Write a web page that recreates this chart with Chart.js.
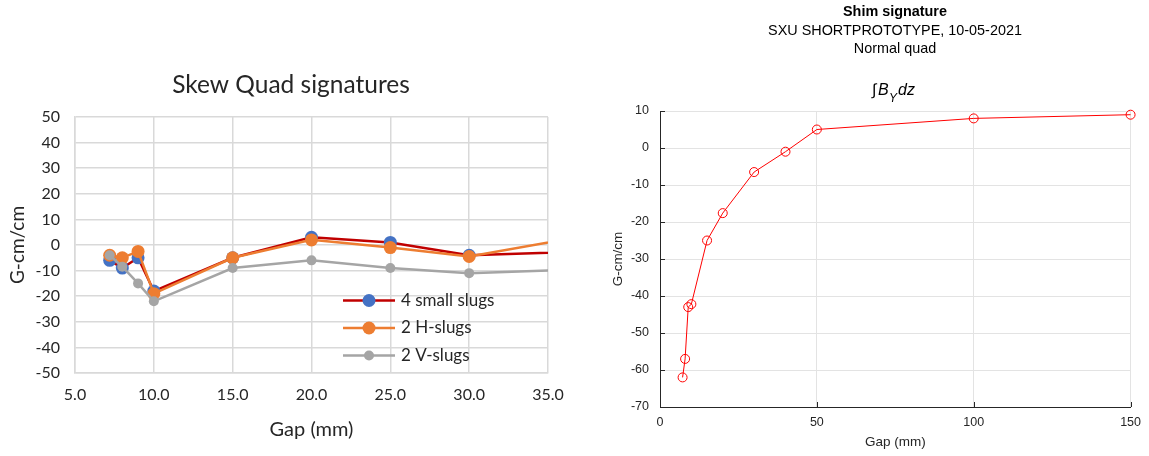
<!DOCTYPE html>
<html><head><meta charset="utf-8">
<script src="https://cdn.jsdelivr.net/npm/chart.js@4/dist/chart.umd.min.js"></script>
<style>
html,body{margin:0;padding:0;background:#fff;}
#wrap{position:relative;width:1149px;height:456px;overflow:hidden;}
#c1{position:absolute;left:0;top:0;}
#c2{position:absolute;left:600px;top:0;}
</style></head><body>
<div id="wrap"><canvas id="c1" width="600" height="456"></canvas><canvas id="c2" width="549" height="456"></canvas></div>
<script>
// ---- Left chart data (Skew Quad signatures) ----
const gapsLeft = [7.2, 8, 9, 10, 15, 20, 25, 30, 40];
const smallSlugs = [-6, -9, -5, -18, -5, 3, 1, -4, -2];
const hSlugs = [-4, -5, -2.5, -19, -5, 2, -1, -4.5, 6.5];
const vSlugs = [-4, -8.5, -15, -22, -9, -6, -9, -11, -9];
const leftLabels = ['4 small slugs', '2 H-slugs', '2 V-slugs'];
const leftXTicks = [5, 10, 15, 20, 25, 30, 35];
const leftYTicks = [-50, -40, -30, -20, -10, 0, 10, 20, 30, 40, 50];

// ---- Right chart data (Shim signature) ----
const gapsRight = [7.2, 8, 9, 10, 15, 20, 30, 40, 50, 100, 150];
const byDz = [-62, -57, -43, -42.2, -25, -17.6, -6.5, -1, 5, 8, 9];
const rightXTicks = [0, 50, 100, 150];
const rightYTicks = [-70, -60, -50, -40, -30, -20, -10, 0, 10];

function xy(xs, ys){ return xs.map((x,i)=>({x:x, y:ys[i]})); }

const textPlugin = {
  id: 'texts',
  afterDraw(chart, args, opts){
    const ctx = chart.ctx;
    (opts.items||[]).forEach(it=>{
      ctx.save();
      ctx.font = it.font; ctx.fillStyle = it.color || '#000';
      ctx.textAlign = it.align || 'center'; ctx.textBaseline = 'middle';
      ctx.fillText(it.text, it.x, it.y);
      ctx.restore();
    });
  }
};

const legendPlugin = {
  id: 'inLegend',
  afterDraw(chart, args, opts){
    if(!opts.show) return;
    const ctx = chart.ctx;
    chart.data.datasets.forEach((ds, i)=>{
      const y = opts.y0 + i*opts.dy;
      ctx.save();
      ctx.strokeStyle = ds.borderColor; ctx.lineWidth = ds.borderWidth;
      ctx.beginPath(); ctx.moveTo(opts.x0, y); ctx.lineTo(opts.x1, y); ctx.stroke();
      ctx.fillStyle = ds.pointBackgroundColor;
      ctx.beginPath(); ctx.arc((opts.x0+opts.x1)/2, y, ds.pointRadius, 0, Math.PI*2); ctx.fill();
      ctx.font = opts.font; ctx.fillStyle = opts.color; ctx.textAlign='left'; ctx.textBaseline='middle';
      ctx.fillText(ds.label, opts.tx, y);
      ctx.restore();
    });
  }
};

const ticksInPlugin = {
  id: 'ticksIn',
  afterDatasetsDraw(chart, args, opts){
    if(!opts.show) return;
    const ctx = chart.ctx, xs = chart.scales.x, ys = chart.scales.y, a = chart.chartArea;
    ctx.save(); ctx.strokeStyle = '#262626'; ctx.lineWidth = 1;
    ctx.beginPath();
    xs.ticks.forEach(t=>{ const p = Math.round(xs.getPixelForValue(t.value))+0.5; ctx.moveTo(p, a.bottom); ctx.lineTo(p, a.bottom-5); });
    ys.ticks.forEach(t=>{ const p = Math.round(ys.getPixelForValue(t.value))+0.5; ctx.moveTo(a.left, p); ctx.lineTo(a.left+5, p); });
    ctx.stroke(); ctx.restore();
  }
};

const LF = 'Lato, "Open Sans", sans-serif';
const LC = '#262626';
new Chart(document.getElementById('c1'), {
  type: 'line',
  data: { datasets: [
    { label: leftLabels[0], data: xy(gapsLeft, smallSlugs), borderColor:'#C00000', borderWidth:2.5,
      pointBackgroundColor:'#4472C4', pointBorderColor:'#4472C4', pointRadius:6.5, pointBorderWidth:0, order:3 },
    { label: leftLabels[1], data: xy(gapsLeft, hSlugs), borderColor:'#ED7D31', borderWidth:2.5,
      pointBackgroundColor:'#ED7D31', pointBorderColor:'#ED7D31', pointRadius:6.5, pointBorderWidth:0, order:2 },
    { label: leftLabels[2], data: xy(gapsLeft, vSlugs), borderColor:'#A5A5A5', borderWidth:2.5,
      pointBackgroundColor:'#A5A5A5', pointBorderColor:'#A5A5A5', pointRadius:5, pointBorderWidth:0, order:1 }
  ]},
  options: {
    responsive:false, animation:false,
    layout:{ padding:{ top:117, right:52, left:0, bottom:0 } },
    plugins:{ legend:{display:false}, tooltip:{enabled:false},
      texts:{ items:[ {text:'Skew Quad signatures', x:291, y:85, font:'24.5px '+LF, color:LC} ] },
      inLegend:{ show:true, x0:343, x1:395, tx:401, y0:300.5, dy:27.5, font:'17px '+LF, color:LC },
      ticksIn:{show:false}
    },
    scales:{
      x:{ type:'linear', min:5, max:35, afterFit:s=>{s.height=83;},
        afterBuildTicks:s=>{ s.ticks = leftXTicks.map(v=>({value:v})); },
        ticks:{ callback:v=>Number(v).toFixed(1), font:{family:LF, size:16}, color:LC, padding:12, maxRotation:0 },
        grid:{ color:'#d9d9d9', lineWidth:1.5, drawTicks:false }, border:{ color:'#d9d9d9', width:1.5 },
        title:{ display:true, text:'Gap (mm)', font:{family:LF, size:20}, color:LC, padding:{top:0,bottom:14} } },
      y:{ type:'linear', min:-50, max:50, afterFit:s=>{s.width=75;},
        afterBuildTicks:s=>{ s.ticks = leftYTicks.map(v=>({value:v})); },
        ticks:{ font:{family:LF, size:16}, color:LC, padding:15 },
        grid:{ color:'#d9d9d9', lineWidth:1.5, drawTicks:false }, border:{ color:'#d9d9d9', width:1.5 },
        title:{ display:true, text:'G-cm/cm', font:{family:LF, size:19}, color:LC, padding:{top:6.6,bottom:0} } }
    }
  },
  plugins:[textPlugin, legendPlugin]
});

const RF = '"Liberation Sans", Arial, sans-serif';
const integralPlugin = {
  id: 'integral',
  afterDraw(chart){
    const ctx = chart.ctx;
    ctx.save(); ctx.fillStyle = '#000'; ctx.textBaseline = 'alphabetic'; ctx.textAlign = 'left';
    ctx.font = 'italic 16px ' + RF;
    let x = 272, y = 95;
    ctx.fillText('\u222B', x, y); x += ctx.measureText('\u222B').width + 1.5;
    ctx.fillText('B', x, y); x += ctx.measureText('B').width + 0.5;
    ctx.font = 'italic 12px ' + RF;
    ctx.fillText('Y', x, y + 7); x += ctx.measureText('Y').width + 1;
    ctx.font = 'italic 16px ' + RF;
    ctx.fillText('dz', x, y);
    ctx.restore();
  }
};

new Chart(document.getElementById('c2'), {
  type: 'line',
  data: { datasets: [
    { label:'\u222BBy dz', data: xy(gapsRight, byDz), borderColor:'#ff0000', borderWidth:1, clip:false,
      pointStyle:'circle', pointRadius:4.5, pointBackgroundColor:'rgba(0,0,0,0)', pointBorderColor:'#ff0000', pointBorderWidth:1 }
  ]},
  options: {
    responsive:false, animation:false,
    layout:{ padding:{ top:111, right:15, left:0, bottom:0 } },
    plugins:{ legend:{display:false}, tooltip:{enabled:false},
      texts:{ items:[
        {text:'Shim signature', x:295, y:12, font:'bold 14.4px '+RF, color:'#000'},
        {text:'SXU SHORTPROTOTYPE, 10-05-2021', x:295, y:31, font:'14.4px '+RF, color:'#000'},
        {text:'Normal quad', x:295, y:49, font:'14.4px '+RF, color:'#000'}
      ]},
      ticksIn:{show:true}
    },
    scales:{
      x:{ type:'linear', min:0, max:150, afterFit:s=>{s.height=49;},
        afterBuildTicks:s=>{ s.ticks = rightXTicks.map(v=>({value:v})); },
        ticks:{ font:{family:RF, size:12.5}, color:'#262626', padding:8, maxRotation:0 },
        grid:{ color:'#e3e3e3', lineWidth:1, drawTicks:false }, border:{ color:'#262626', width:1 },
        title:{ display:true, text:'Gap (mm)', font:{family:RF, size:13.5}, color:'#262626', padding:{top:0,bottom:5.9} } },
      y:{ type:'linear', min:-70, max:10, afterFit:s=>{s.width=60;},
        afterBuildTicks:s=>{ s.ticks = rightYTicks.map(v=>({value:v})); },
        ticks:{ font:{family:RF, size:12.5}, color:'#262626', padding:11 },
        grid:{ color:'#e3e3e3', lineWidth:1, drawTicks:false }, border:{ color:'#262626', width:1 },
        title:{ display:true, text:'G-cm/cm', font:{family:RF, size:13.5}, color:'#262626', padding:{top:9.9,bottom:0} } }
    }
  },
  plugins:[textPlugin, integralPlugin, ticksInPlugin]
});
</script>
</body></html>
